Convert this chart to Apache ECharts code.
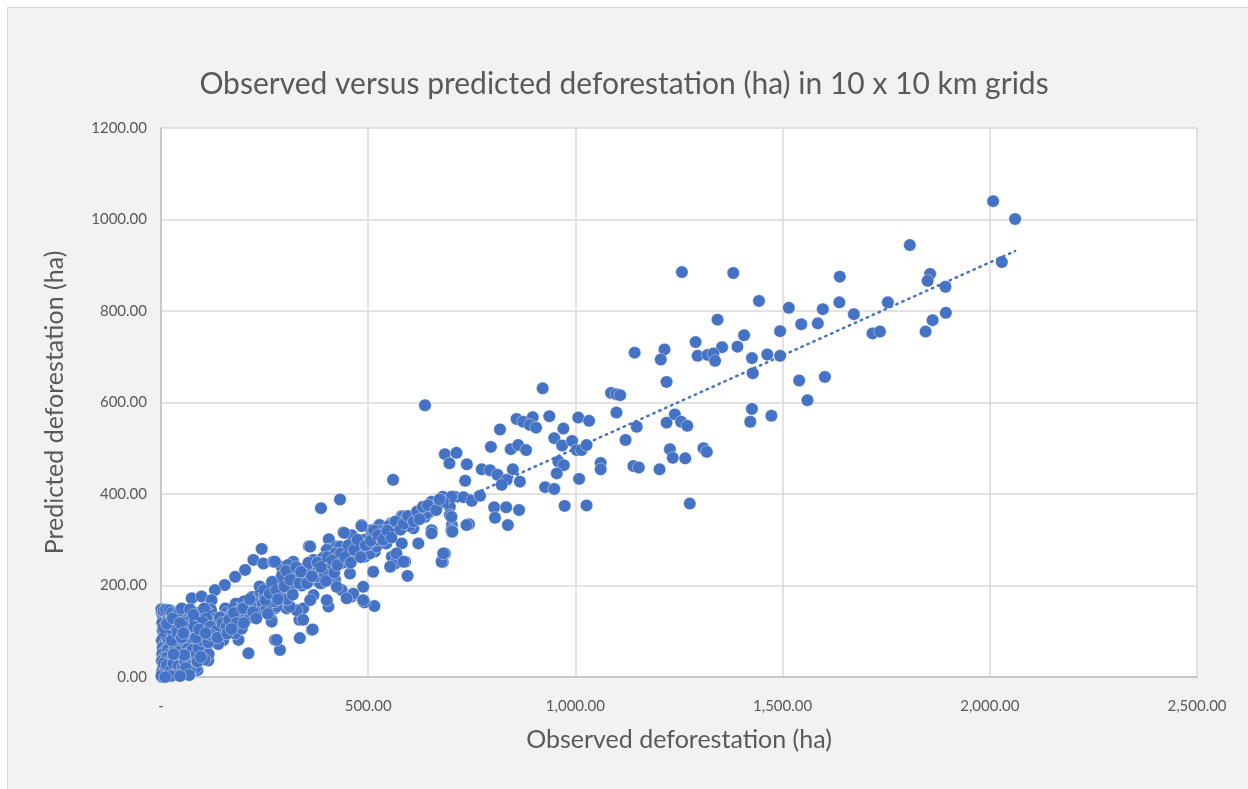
<!DOCTYPE html>
<html><head><meta charset="utf-8">
<script src="https://cdn.jsdelivr.net/npm/echarts@6/dist/echarts.min.js"></script>
<style>
html,body{margin:0;padding:0;background:#fff;width:1248px;height:789px;overflow:hidden;}
#frame{position:absolute;left:7px;top:7px;width:1260px;height:800px;background:#f2f2f2;border:1px solid #d9d9d9;}
#chart{position:absolute;left:0;top:0;width:1248px;height:789px;}
</style></head>
<body><div id="frame"></div><div id="chart"></div>
<script>
const titleText = 'Observed versus predicted deforestation (ha) in 10 x 10 km grids';
const xName = 'Observed deforestation (ha)';
const yName = 'Predicted deforestation (ha)';
const xTicks = [0, 500, 1000, 1500, 2000, 2500];
const yTicks = [0, 200, 400, 600, 800, 1000, 1200];

// [observed, predicted] pairs
const highPoints = [
[2008,1040],[2061,1001],[2029,907],[1807,944],[1856,881],[1850,866],[1893,853],[1894,796],[1862,780],[1845,755],
[1638,875],[1637,819],[1597,804],[1672,793],[1754,819],[1515,807],[1545,771],[1585,773],[1717,751],[1735,755],
[1494,756],[1494,702],[1540,648],[1602,656],[1560,605],[1257,885],[1381,883],[1443,822],[1343,781],[1407,747],
[1290,732],[1354,721],[1391,722],[1143,709],[1215,716],[1206,694],[1295,702],[1319,704],[1333,707],[1337,691],
[1426,697],[1463,705],[1428,664],[1220,645],[1086,621],[1099,618],[1108,616],[1099,578],[1426,586],[1422,558],
[1473,571],[1148,547],[1220,556],[1240,574],[1255,558],[1270,549],[1309,500],[1317,492]
];
const midPoints = [
[1121,518],[1228,498],[1235,479],[1265,478],[1276,379],[1061,468],[1061,454],[1140,461],[1153,458],[1203,454],
[1007,567],[1033,560],[1009,433],[1027,375],[974,374],[921,631],[858,564],[874,558],[897,568],[890,551],
[905,545],[937,570],[818,541],[971,543],[949,522],[968,506],[992,516],[1003,496],[1015,496],[1027,507],
[796,503],[844,498],[862,507],[881,496],[959,471],[972,463],[955,445],[774,454],[794,452],[812,442],
[849,454],[834,431],[822,420],[866,427],[734,429],[738,465],[685,487],[713,490],[696,467],[927,415],
[949,411],[685,389],[709,394],[730,393],[750,385],[770,396],[697,372],[697,354],[702,332],[702,317],
[804,371],[833,371],[806,348],[864,365],[837,332],[743,334],[685,270],[680,251],[560,431],[432,388],
[386,369],[637,594]
];
const lowPoints = [
[653,383],[680,394],[701,394],[701,350],[701,321],[645,358],[637,350],[653,321],[581,352],[597,339],
[609,325],[621,292],[581,292],[555,336],[526,332],[507,321],[484,332],[460,310],[440,316],[405,301],
[357,286],[404,279],[424,285],[243,280],[319,252],[368,256],[436,252],[468,281],[492,263],[516,274],
[541,292],[557,263],[589,252],[565,248],[653,314],[677,252],[223,256],[247,248],[271,252],[291,241],
[307,245],[203,234],[179,219],[154,201],[130,190],[74,172],[98,176],[122,168],[323,234],[347,219],
[372,212],[388,205],[404,219],[420,212],[436,190],[460,176],[488,197],[488,165],[515,155],[343,150],
[334,125],[335,85],[364,103],[404,154],[368,179],[303,150],[275,150],[267,125],[287,59],[275,81],
[211,52],[187,81],[179,95],[195,106],[167,125],[146,106],[114,36],[88,15],[227,154],[203,139],
[179,154],[106,110],[82,95],[66,66],[50,30],[34,8],[17,2],[2,0],[583,350],[601,339],
[641,358],[657,372],[681,383],[703,318],[737,332],[681,270],[595,221],[491,163],[360,285],[442,315],
[484,330],[528,332],[557,334],[275,252],[400,278],[432,285],[464,263],[504,270],[520,285],[544,292],
[568,270],[585,252],[553,241],[512,230],[456,226],[408,234],[287,212],[343,219],[384,205],[424,197],
[464,182],[488,168],[448,172],[400,168],[360,168],[327,146],[311,154],[279,154],[267,121],[343,125],
[366,104],[279,81]
];
const clusterPoints = [
[2,140],[5,132],[8,125],[3,118],[10,110],[4,102],[12,96],[6,88],[2,80],[9,72],[4,64],[11,58],[3,50],[7,42],
[2,35],[10,28],[5,20],[3,12],[8,6],[1,3],[14,138],[18,128],[22,120],[16,112],[20,104],[25,95],[15,85],[19,78],
[24,70],[17,60],[22,50],[14,42],[26,36],[18,25],[12,18],[20,10],[28,5],[30,142],[35,135],[40,128],[32,118],
[38,110],[45,100],[30,92],[42,88],[36,76],[48,70],[33,62],[44,55],[38,45],[50,40],[40,30],[34,20],[46,14],
[55,8],[60,145],[52,138],[58,128],[65,120],[55,112],[62,104],[70,98],[58,88],[68,80],[75,72],[64,62],[72,52],
[80,44],[66,38],[78,28],[84,20],[70,12],[88,140],[95,132],[82,125],[90,116],[100,108],[86,100],[96,92],
[105,84],[92,74],[110,66],[98,58],[115,50],[105,38],[120,148],[112,142],[125,135],[130,128],[118,120],
[135,115],[140,105],[128,96],[145,90],[150,80],[138,72],[155,150],[160,142],[168,135],[150,128],[172,122],
[180,160],[175,150],[190,145],[185,135],[195,128],[200,165],[210,155],[205,140],[215,130],[220,175],
[230,168],[225,150],[240,185],[250,178],[245,160],[235,140],[260,195],[270,188],[265,170],[255,150],
[280,205],[290,198],[285,180],[275,165],[300,210],[310,200],[295,185],[305,170],[320,225],[330,215],
[340,200],[315,190],[350,240],[360,230],[345,215],[370,245],[380,235],[375,220],[390,260],[400,250],
[410,240],[395,225],[420,270],[430,260],[440,250],[450,275],[460,265],[470,290],[480,280],[490,300],
[500,290],[510,310],[520,300],[530,320],[540,310],[550,330],[560,320],[575,335],[590,345],[600,330],
[1,148],[6,145],[12,147],[20,146],[26,140],[44,144],[50,150],[70,148],[78,136],[104,150],[110,128],[100,120],
[120,110],[132,100],[124,88],[142,130],[148,118],[158,110],[164,125],[176,140],[182,118],[198,150],[200,118],
[214,170],[222,142],[230,128],[238,198],[248,190],[252,168],[258,138],[262,182],[268,208],[278,190],[282,170],
[292,222],[298,198],[302,232],[312,212],[318,180],[326,240],[334,205],[338,230],[352,205],[356,250],[364,220],
[378,250],[386,240],[398,210],[402,262],[414,255],[418,228],[426,245],[434,270],[444,262],[452,288],[458,250],
[466,278],[474,300],[482,262],[494,288],[506,298],[514,320],[524,310],[536,300],[546,320],[556,305],[566,340],
[578,322],[586,335],[596,352],[610,340],[618,362],[624,345],[632,372],[644,375],[664,365],[672,388],
[6,30],[14,26],[24,15],[30,30],[42,24],[52,20],[58,32],[62,50],[76,60],[86,50],[90,64],[100,80],[114,76],
[120,92],[88,34],[96,44],[60,20],[68,4],[40,4],[24,2],[10,0],[46,2],[56,48],[30,50],[26,80],[40,96],[50,86],
[6,108],[14,116],[28,128],[46,118],[54,96],[84,86],[80,110],[92,104],[108,96],[136,86],[160,95],[170,105]
];
const trendX = [0, 2061];
const trendY = [93, 931];

const allPoints = highPoints.concat(midPoints, lowPoints, clusterPoints);
const trendData = trendX.map((x, i) => [x, trendY[i]]);

const FONT = 'Lato';
const GREY = '#595959';
const chart = echarts.init(document.getElementById('chart'), null, {renderer: 'canvas'});
chart.setOption({
  backgroundColor: 'transparent',
  animation: false,
  textStyle: {fontFamily: FONT},
  title: {
    text: titleText, left: 'center', top: 64,
    textStyle: {fontFamily: FONT, fontSize: 30, fontWeight: 'normal', color: GREY}
  },
  grid: {left: 161, top: 128, right: 51, bottom: 112, show: true, backgroundColor: '#ffffff', borderWidth: 0},
  xAxis: {
    type: 'value', min: 0, max: 2500, interval: 500,
    name: xName, nameLocation: 'middle', nameGap: 50,
    nameTextStyle: {fontFamily: FONT, fontSize: 25, color: GREY},
    axisLine: {show: true, lineStyle: {color: '#bfbfbf', width: 1.5}},
    axisTick: {show: false},
    splitLine: {show: true, lineStyle: {color: '#d9d9d9', width: 1.5}},
    axisLabel: {
      color: GREY, fontSize: 15, fontFamily: FONT, margin: 22,
      formatter: v => v === 0 ? '-' : v.toLocaleString('en-US', {minimumFractionDigits: 2, maximumFractionDigits: 2})
    }
  },
  yAxis: {
    type: 'value', min: 0, max: 1200, interval: 200,
    name: yName, nameLocation: 'middle', nameGap: 94,
    nameTextStyle: {fontFamily: FONT, fontSize: 25, color: GREY},
    axisLine: {show: true, lineStyle: {color: '#bfbfbf', width: 1.5}},
    axisTick: {show: false},
    splitLine: {show: true, lineStyle: {color: '#d9d9d9', width: 1.5}},
    axisLabel: {color: GREY, fontSize: 15, fontFamily: FONT, margin: 14, formatter: v => v.toFixed(2)}
  },
  series: [
    {
      type: 'scatter', data: allPoints, symbol: 'circle', symbolSize: 12.5,
      itemStyle: {color: '#4472C4', opacity: 1, borderColor: '#ffffff', borderWidth: 0.4}, z: 2
    },
    {
      type: 'line', data: trendData, showSymbol: false, symbol: 'none', z: 3,
      lineStyle: {color: '#4472C4', width: 2.5, type: [1.5, 5], cap: 'round'}
    }
  ]
});
</script>
</body></html>
